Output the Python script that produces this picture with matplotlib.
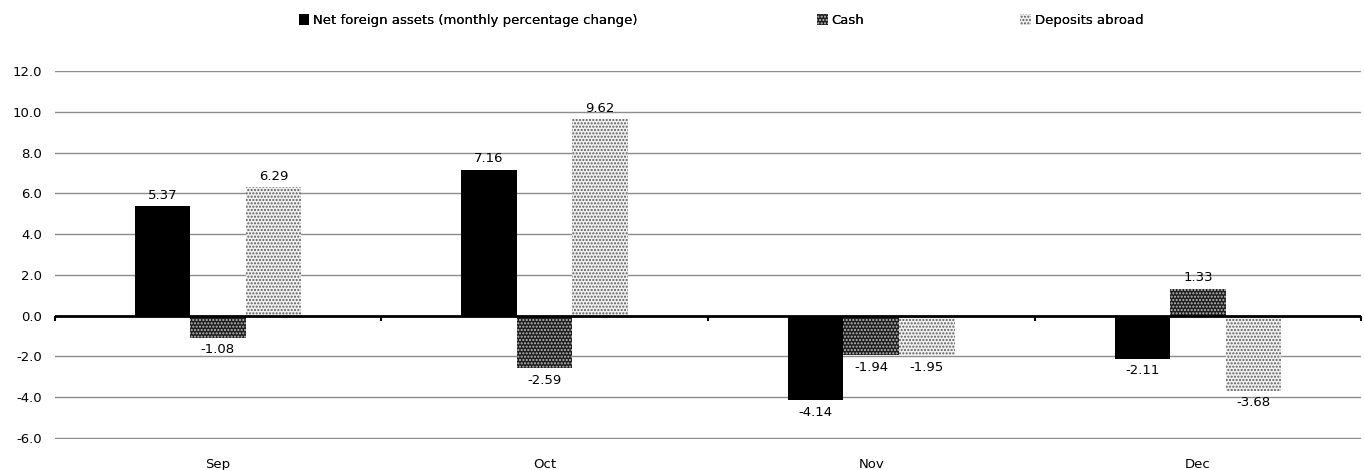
import matplotlib
matplotlib.use("Agg")
import matplotlib.pyplot as plt
import numpy as np

categories = ["Sep", "Oct", "Nov", "Dec"]
series_names = ["Net foreign assets (monthly percentage change)", "Cash", "Deposits abroad"]
net_foreign = [5.37, 7.16, -4.14, -2.11]
cash = [-1.08, -2.59, -1.94, 1.33]
deposits = [6.29, 9.62, -1.95, -3.68]
yticks = [-6, -4, -2, 0, 2, 4, 6, 8, 10, 12]

plt.rcParams['font.family'] = ['DejaVu Sans']
plt.rcParams['hatch.linewidth'] = 1.0

FS = 9.5
fig = plt.figure(figsize=(13.64, 4.70), dpi=100)
ax = fig.add_axes([0.040, 0.066, 0.958, 0.783])

x = np.arange(len(categories))
w = 0.17
styles = [
    dict(facecolor='black', edgecolor='black', hatch=None),
    dict(facecolor='#1e1e1e', edgecolor='#bdbdbd', hatch='.....'),
    dict(facecolor='#f0f0f0', edgecolor='#5a5a5a', hatch='.....'),
]
handles = []
for i, (vals, st) in enumerate(zip([net_foreign, cash, deposits], styles)):
    bars = ax.bar(x + (i - 1) * w, vals, w, facecolor=st['facecolor'],
                  edgecolor=st['edgecolor'], hatch=st['hatch'], linewidth=0,
                  label=series_names[i], zorder=3)
    handles.append(bars)
    for b, v in zip(bars, vals):
        cx = b.get_x() + b.get_width() / 2
        if v >= 0:
            ax.annotate(f"{v:.2f}", (cx, v), xytext=(0, 3), textcoords='offset points',
                        ha='center', va='bottom', fontsize=FS)
        else:
            ax.annotate(f"{v:.2f}", (cx, v), xytext=(0, -4), textcoords='offset points',
                        ha='center', va='top', fontsize=FS)

ax.set_xlim(-0.5, len(categories) - 0.5)
ax.set_ylim(-6.05, 12)
ax.set_yticks(yticks)
ax.set_yticklabels([f"{t:.1f}" for t in yticks], fontsize=FS)
ax.set_xticks(x)
ax.set_xticklabels(categories, fontsize=FS)
ax.tick_params(axis='x', length=0, pad=14)
ax.tick_params(axis='y', length=0, pad=9)
ax.yaxis.grid(True, color='#8c8c8c', linewidth=1.0, zorder=0)
for s in ['top', 'right', 'left', 'bottom']:
    ax.spines[s].set_visible(False)
ax.axhline(0, color='black', linewidth=2, zorder=4)
bounds = np.arange(len(categories) + 1) - 0.5
ax.vlines(bounds, -0.25, 0, color='black', linewidth=1.5, zorder=4, clip_on=False)

legend_x = [0.219, 0.599, 0.748]
for h, lx in zip(handles, legend_x):
    leg = fig.legend(handles=[h], loc='upper left', bbox_to_anchor=(lx, 0.970),
                     frameon=False, fontsize=FS, handlelength=0.8, handleheight=0.8,
                     handletextpad=0.3, borderpad=0, borderaxespad=0)
    fig.add_artist(leg)

fig.savefig("out.png", dpi=100)
